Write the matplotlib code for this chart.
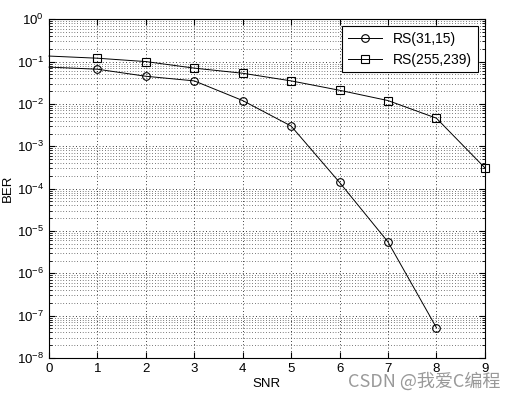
import matplotlib.pyplot as plt
import numpy as np

plt.rcParams['font.family'] = ['Liberation Sans', 'Noto Sans CJK SC', 'DejaVu Sans']

snr = [0, 1, 2, 3, 4, 5, 6, 7, 8, 9]
ber_rs31 = [0.074, 0.066, 0.045, 0.035, 0.012, 0.003, 1.4e-4, 5.5e-6, 5.2e-8]
ber_rs255 = [0.135, 0.12, 0.10, 0.07, 0.053, 0.035, 0.021, 0.012, 0.0046, 3.1e-4]

fig = plt.figure(figsize=(5.17, 3.99), dpi=100)
ax = fig.add_axes([0.0948, 0.1028, 0.843, 0.849])

ax.semilogy(snr[:len(ber_rs31)], ber_rs31, '-o', color='black', lw=0.7,
            markerfacecolor='none', markersize=5.5, markeredgewidth=0.8,
            markevery=range(1, len(ber_rs31)), label='RS(31,15)', clip_on=False)
ax.semilogy(snr, ber_rs255, '-s', color='black', lw=0.7,
            markerfacecolor='none', markersize=5.5, markeredgewidth=0.8,
            markevery=range(1, len(ber_rs255)), label='RS(255,239)', clip_on=False)

ax.set_xlim(0, 9)
ax.set_ylim(1e-8, 1)
ax.set_xticks(snr)
ax.set_yticks([10.0 ** k for k in range(-8, 1)])
ax.yaxis.set_minor_locator(plt.matplotlib.ticker.LogLocator(base=10, subs=np.arange(2, 10), numticks=20))
ax.yaxis.set_minor_formatter(plt.NullFormatter())

dots = (0, (1, 3))
ax.grid(True, which='major', linestyle=dots, color='black', lw=0.6)
ax.grid(True, which='minor', axis='y', linestyle=dots, color='black', lw=0.5)
ax.tick_params(which='both', direction='in', top=True, right=True, labelsize=9.5)
ax.tick_params(which='major', length=4)
ax.tick_params(which='minor', length=2)
for s in ax.spines.values():
    s.set_linewidth(0.8)

ax.set_xlabel('SNR', fontsize=9.5, labelpad=2)
ax.set_ylabel('BER', fontsize=9.5, labelpad=2)

leg = ax.legend(loc='upper right', fontsize=10, fancybox=False, framealpha=1,
                edgecolor='black', handlelength=2.5, borderaxespad=0.5)
leg.get_frame().set_linewidth(0.8)

fig.text(0.968, 0.02, 'CSDN @我爱C编程', fontsize=13, color='#999999',
         ha='right', va='bottom', family=['Noto Sans CJK SC', 'DejaVu Sans'])

fig.savefig('out.png', dpi=100)
